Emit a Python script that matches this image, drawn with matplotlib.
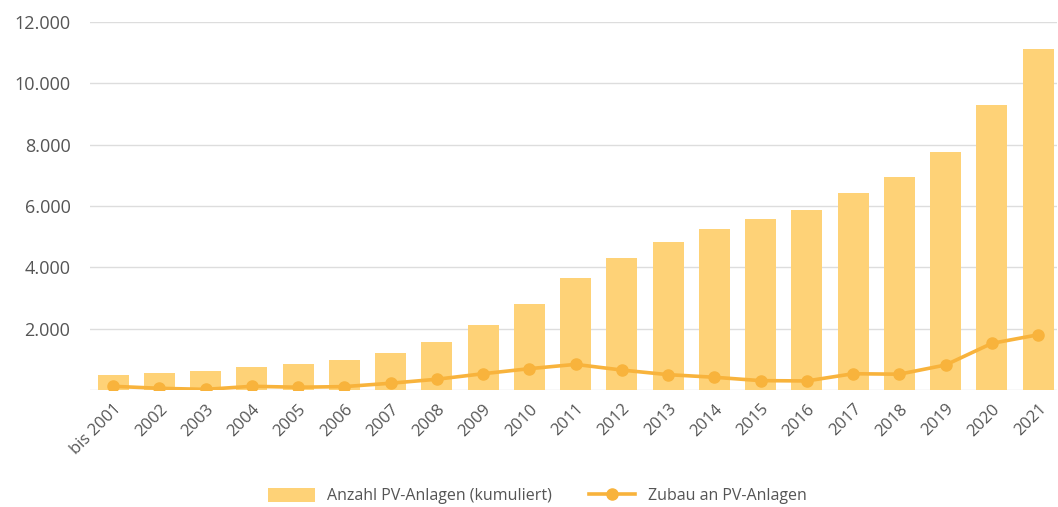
import matplotlib
matplotlib.use("Agg")
import matplotlib.pyplot as plt
from matplotlib.ticker import FuncFormatter

categories = ["bis 2001", "2002", "2003", "2004", "2005", "2006", "2007", "2008", "2009", "2010",
              "2011", "2012", "2013", "2014", "2015", "2016", "2017", "2018", "2019", "2020", "2021"]
anzahl_kumuliert = [500, 570, 610, 740, 840, 980, 1220, 1565, 2115, 2800,
                    3650, 4300, 4830, 5250, 5570, 5870, 6420, 6945, 7760, 9290, 11120]
zubau = [120, 55, 20, 120, 90, 110, 220, 350, 530, 695,
         835, 650, 500, 415, 305, 295, 530, 515, 815, 1520, 1800]
y_ticks = [0, 2000, 4000, 6000, 8000, 10000, 12000]

bar_color = "#FED277"
line_color = "#F8B33C"
text_color = "#555555"

plt.rcParams['font.family'] = ['Open Sans', 'DejaVu Sans']

fig = plt.figure(figsize=(10.58, 5.07), dpi=100)
ax = fig.add_axes([0.085, 0.2308, 0.9145, 0.7258])

x = list(range(len(categories)))
bars = ax.bar(x, anzahl_kumuliert, width=0.67, color=bar_color, zorder=2,
              label="Anzahl PV-Anlagen (kumuliert)")
line, = ax.plot(x, zubau, color=line_color, linewidth=2.6, marker="o", markersize=8,
                zorder=3, label="Zubau an PV-Anlagen")

ax.set_ylim(0, 12000)
ax.set_xlim(-0.5, 20.42)
ax.set_yticks(y_ticks)
ax.yaxis.set_major_formatter(FuncFormatter(lambda v, p: "" if v == 0 else f"{int(v):,}".replace(",", ".")))
ax.set_xticks(x)
ax.set_xticklabels(categories, rotation=45, ha="right", rotation_mode="anchor")
ax.tick_params(axis="both", length=0, colors=text_color)
ax.tick_params(axis="y", pad=14, labelsize=13)
ax.tick_params(axis="x", pad=8, labelsize=12)
ax.grid(axis="y", color="#DDDDDD", linewidth=1, zorder=0)
for s in ax.spines.values():
    s.set_visible(False)

leg = fig.legend([bars, line], ["Anzahl PV-Anlagen (kumuliert)", "Zubau an PV-Anlagen"],
                 loc="center", bbox_to_anchor=(0.508, 0.022), ncol=2, frameon=False,
                 fontsize=11.5, handlelength=2.9, handleheight=1.0, columnspacing=2.3,
                 handletextpad=0.8)
for t in leg.get_texts():
    t.set_color(text_color)

fig.savefig("out.png", dpi=100)
